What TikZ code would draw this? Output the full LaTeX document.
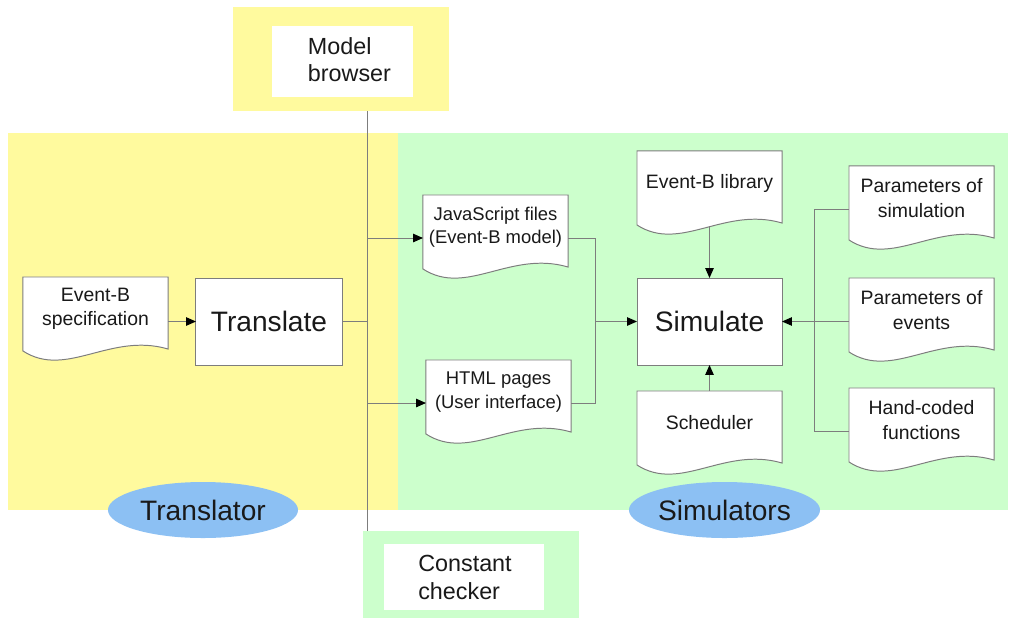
\documentclass[tikz,border=0pt]{standalone}
\usepackage{fontspec}
\setmainfont{Liberation Sans}
\usetikzlibrary{arrows.meta,shapes.geometric,calc}
\definecolor{regY}{RGB}{255,250,158}
\definecolor{regG}{RGB}{204,255,204}
\definecolor{ellB}{RGB}{140,192,243}
\definecolor{lineC}{RGB}{125,125,125}
\definecolor{txt}{RGB}{25,25,25}
\newcommand{\docoutline}[1]{\draw[conn, fill=white] ([yshift=0.3cm]#1.south west) -- (#1.north west) -- (#1.north east) -- ([yshift=0.35cm]#1.south east) .. controls +(-58,-17) and +(43.5,28) .. ([yshift=0.3cm]#1.south west) -- cycle;}
\begin{document}
\begin{tikzpicture}[x=0.025cm,y=-0.025cm,
 docbox/.style={minimum width=3.625cm, minimum height=2.15cm, inner sep=0pt, outer sep=0pt},
 doctext/.style={align=center, text=txt, font=\fontsize{13.8}{17.4}\selectfont, inner sep=0pt},
 doctextsm/.style={doctext, font=\fontsize{13.1}{16.5}\selectfont},
 boxnode/.style={draw=lineC, fill=white, line width=0.7pt, inner sep=0pt, outer sep=0pt, text=txt, font=\fontsize{20}{24}\selectfont},
 conn/.style={draw=lineC, line width=0.7pt},
 arr/.style={conn, -{Triangle[length=7pt,width=6pt,color=black]}},
 lab/.style={ellipse, fill=ellB, inner sep=0pt, minimum width=4.75cm, minimum height=1.4cm, text=txt, font=\fontsize{20}{24}\selectfont},
 tool/.style={align=left, text=txt, font=\fontsize{16.6}{19.6}\selectfont, inner sep=0pt},
 panel/.style={fill=#1, inner sep=0pt, outer sep=0pt},
]
\useasboundingbox (0,0) rectangle (1010,618);
% regions
\fill[regY] (8,133) rectangle (398,510);
\fill[regG] (398,133) rectangle (1008,510);
% tool boxes
\node[panel=regY, minimum width=5.4cm, minimum height=2.6cm] (mbOuter) at (341,59) {};
\node[panel=white, minimum width=3.525cm, minimum height=1.775cm] (mbInner) at (342.5,61.5) {};
\node[tool] (mbText) at (349.5,59.5) {Model\\browser};
\node[panel=regG, minimum width=5.4cm, minimum height=2.175cm] (ccOuter) at (471,574.5) {};
\node[panel=white, minimum width=4cm, minimum height=1.65cm] (ccInner) at (464,577) {};
\node[tool] (ccText) at (465,577.5) {Constant\\checker};
% bus
\coordinate (bus) at (367,0);
\draw[conn] (mbOuter.south -| bus) -- (ccOuter.north -| bus);
% documents
\node[docbox] (spec) at (95.5,320) {};
\node[docbox] (js) at (495.5,238) {};
\node[docbox] (html) at (498.5,403) {};
\node[docbox] (lib) at (709.5,194) {};
\node[docbox] (sched) at (709.5,434) {};
\node[docbox] (psim) at (921.5,209) {};
\node[docbox] (pev) at (921.5,321) {};
\node[docbox] (hand) at (921.5,431) {};
\docoutline{spec}
\docoutline{js}
\docoutline{html}
\docoutline{lib}
\docoutline{sched}
\docoutline{psim}
\docoutline{pev}
\docoutline{hand}
\node[doctext] (specT) at (95.5,309) {Event-B\\specification};
\node[doctextsm] (jsT) at (495.5,227) {JavaScript files\\(Event-B model)};
\node[doctextsm] (htmlT) at (498.5,392) {HTML pages\\(User interface)};
\node[doctext] (libT) at (709.5,183) {Event-B library};
\node[doctext] (schedT) at (709.5,423) {Scheduler};
\node[doctext] (psimT) at (921.5,198) {Parameters of\\simulation};
\node[doctext] (pevT) at (921.5,310) {Parameters of\\events};
\node[doctext] (handT) at (921.5,420) {Hand-coded\\functions};
% process boxes
\node[boxnode, minimum width=3.65cm, minimum height=2.175cm] (tr) at (269,321.5) {Translate};
\node[boxnode, minimum width=3.625cm, minimum height=2.175cm] (sim) at (709.5,321.5) {Simulate};
% connectors
\draw[arr] (tr.west -| spec.east) -- (tr.west);
\draw[conn] (tr.east) -- (tr.east -| bus);
\draw[arr] (js.west -| bus) -- (js.west);
\draw[arr] (html.west -| bus) -- (html.west);
\coordinate (join) at (595,321.5);
\draw[conn] (js.east) -| (join);
\draw[conn] (html.east) -| (join);
\draw[arr] (join) -- (sim.west);
\draw[arr] ([yshift=0.275cm]lib.south) -- (sim.north);
\draw[arr] (sched.north) -- (sim.south);
\coordinate (rx) at (814,0);
\draw[conn] (psim.west) -- (psim.west -| rx) -- (hand.west -| rx) -- (hand.west);
\draw[arr] (pev.west |- sim.east) -- (sim.east);
% labels
\node[lab] (translator) at (203,510) {Translator};
\node[lab, minimum width=4.775cm] (simulators) at (724.5,510) {Simulators};
\end{tikzpicture}
\end{document}
